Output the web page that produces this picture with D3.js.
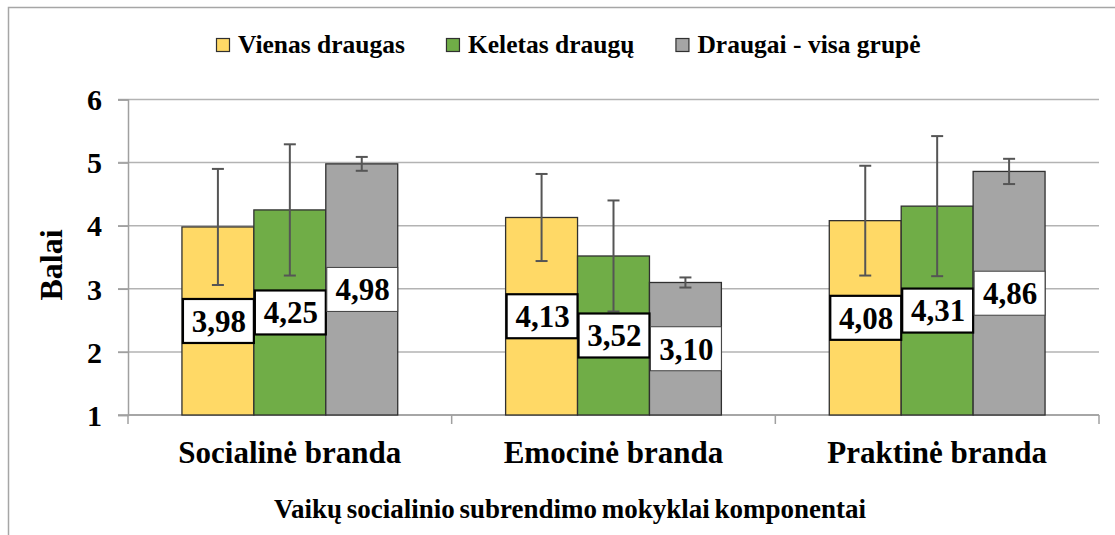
<!DOCTYPE html>
<html>
<head>
<meta charset="utf-8">
<script src="https://cdn.jsdelivr.net/npm/d3@7"></script>
<style>
  body { margin: 0; background: #fff; }
</style>
</head>
<body>
<div id="chart"></div>
<script>
// data
var categories = ["Socialinė branda", "Emocinė branda", "Praktinė branda"];
var seriesNames = ["Vienas draugas", "Keletas draugų", "Draugai - visa grupė"];
var vienas = [3.98, 4.13, 4.08];
var keletas = [4.25, 3.52, 4.31];
var grupe = [4.98, 3.10, 4.86];
var vienasErr = [0.92, 0.69, 0.87];
var keletasErr = [1.04, 0.88, 1.11];
var grupeErr = [0.11, 0.08, 0.20];
var yTicks = [1, 2, 3, 4, 5, 6];

var colors = ["#FFD966", "#70AD47", "#A5A5A5"];
var serif = "'Liberation Serif', 'Times New Roman', Times, serif";

var width = 1115, height = 535;
var plot = {left: 128, right: 1099, top: 99.5, bottom: 415};

var svg = d3.select("#chart").append("svg")
    .attr("width", width)
    .attr("height", height)
    .attr("font-family", serif)
    .attr("font-weight", "bold");

// outer chart border (runs off the right and bottom edges)
svg.append("path")
    .attr("d", "M8.5," + (height + 5) + "V7.5H" + (width + 5))
    .attr("fill", "none")
    .attr("stroke", "#a6a6a6")
    .attr("stroke-width", 1.5);

var x0 = d3.scaleBand()
    .domain(categories)
    .range([plot.left, plot.right])
    .padding(0);

var x1 = d3.scaleBand()
    .domain(seriesNames)
    .range([0, x0.bandwidth()])
    .paddingInner(0)
    .paddingOuter(0.75);

var y = d3.scaleLinear()
    .domain([1, 6])
    .range([plot.bottom, plot.top]);

var commaFormat = d3.formatLocale({decimal: ",", thousands: " ", grouping: [3], currency: ["", ""]}).format(".2f");

// build rows
var values = [vienas, keletas, grupe];
var errs = [vienasErr, keletasErr, grupeErr];
var rows = [];
categories.forEach(function(c, i) {
    seriesNames.forEach(function(s, j) {
        rows.push({cat: c, series: s, idx: j, value: values[j][i], err: errs[j][i]});
    });
});

// GRIDLINES
svg.append("g")
    .selectAll("line")
    .data(yTicks)
    .enter().append("line")
    .attr("x1", plot.left - 10)
    .attr("x2", plot.right)
    .attr("y1", function(d) { return y(d); })
    .attr("y2", function(d) { return y(d); })
    .attr("stroke", function(d) { return d == 1 ? "#a0a0a0" : "#b3b3b3"; })
    .attr("stroke-width", 1.5);

// Y AXIS
var yAxis = svg.append("g")
    .attr("transform", "translate(" + plot.left + ",0)")
    .call(d3.axisLeft(y).tickValues(yTicks).tickSize(10).tickPadding(16).tickFormat(d3.format("d")))
    .attr("font-family", serif)
    .attr("font-weight", "bold");
yAxis.select(".domain").attr("stroke", "#a0a0a0").attr("stroke-width", 1.5);
yAxis.selectAll(".tick line").attr("stroke", "#a0a0a0").attr("stroke-width", 1.5);
yAxis.selectAll(".tick text")
    .style("font-family", serif)
    .style("font-size", "30px")
    .attr("fill", "#000")
    .attr("dy", "0.34em");

// X AXIS (category boundaries)
var xAxisG = svg.append("g")
    .attr("transform", "translate(0," + plot.bottom + ")");
xAxisG.append("line")
    .attr("x1", plot.left).attr("x2", plot.right)
    .attr("stroke", "#a0a0a0").attr("stroke-width", 1.5);
var bounds = categories.map(function(c) { return x0(c); }).concat([plot.right]);
xAxisG.selectAll(".sep")
    .data(bounds)
    .enter().append("line")
    .attr("class", "sep")
    .attr("x1", function(d) { return d; })
    .attr("x2", function(d) { return d; })
    .attr("y1", 0).attr("y2", 9)
    .attr("stroke", "#a0a0a0").attr("stroke-width", 1.5);
xAxisG.selectAll(".catlabel")
    .data(categories)
    .enter().append("text")
    .attr("class", "catlabel")
    .attr("x", function(d) { return x0(d) + x0.bandwidth() / 2; })
    .attr("y", 48)
    .attr("text-anchor", "middle")
    .style("font-family", serif)
    .style("font-size", "31px")
    .text(function(d) { return d; });

// BARS
svg.append("g")
    .selectAll("rect")
    .data(rows)
    .enter().append("rect")
    .attr("x", function(d) { return x0(d.cat) + x1(d.series); })
    .attr("y", function(d) { return y(d.value); })
    .attr("width", x1.bandwidth())
    .attr("height", function(d) { return y(1) - y(d.value); })
    .attr("fill", function(d) { return colors[d.idx]; })
    .attr("stroke", "#303030")
    .attr("stroke-width", 1.3);

// ERROR BARS
var eb = svg.append("g")
    .selectAll("g")
    .data(rows)
    .enter().append("g")
    .attr("stroke", "#555")
    .attr("stroke-width", 2);
eb.append("line")
    .attr("x1", function(d) { return x0(d.cat) + x1(d.series) + x1.bandwidth() / 2; })
    .attr("x2", function(d) { return x0(d.cat) + x1(d.series) + x1.bandwidth() / 2; })
    .attr("y1", function(d) { return y(d.value + d.err); })
    .attr("y2", function(d) { return y(d.value - d.err); });
[1, -1].forEach(function(sign) {
    eb.append("line")
        .attr("x1", function(d) { return x0(d.cat) + x1(d.series) + x1.bandwidth() / 2 - 6; })
        .attr("x2", function(d) { return x0(d.cat) + x1(d.series) + x1.bandwidth() / 2 + 6; })
        .attr("y1", function(d) { return y(d.value + sign * d.err); })
        .attr("y2", function(d) { return y(d.value + sign * d.err); });
});

// VALUE LABELS (white boxes centred in the bars)
var boxH = 44;
var lab = svg.append("g")
    .selectAll("g")
    .data(rows)
    .enter().append("g")
    .attr("transform", function(d) {
        return "translate(" + (x0(d.cat) + x1(d.series)) + "," + ((y(d.value) + y(1)) / 2) + ")";
    });
lab.append("rect")
    .attr("x", 1)
    .attr("y", -boxH / 2)
    .attr("width", x1.bandwidth() - 1)
    .attr("height", boxH)
    .attr("fill", "#fff")
    .attr("stroke", function(d) { return d.idx == 2 ? "#404040" : "#000"; })
    .attr("stroke-width", function(d) { return d.idx == 2 ? 1 : 2.2; });
lab.append("text")
    .attr("x", x1.bandwidth() / 2 + 1)
    .attr("y", 0)
    .attr("dy", "0.35em")
    .attr("text-anchor", "middle")
    .style("font-family", serif)
    .style("font-size", "31px")
    .text(function(d) { return commaFormat(d.value); });

// AXIS TITLES
svg.append("text")
    .attr("transform", "translate(62,265) rotate(-90)")
    .attr("text-anchor", "middle")
    .style("font-family", serif)
    .style("font-size", "32px")
    .text("Balai");

svg.append("text")
    .attr("x", 570)
    .attr("y", 518)
    .attr("text-anchor", "middle")
    .style("font-family", serif)
    .style("font-size", "27px")
    .style("word-spacing", "-2px")
    .text("Vaikų socialinio subrendimo mokyklai komponentai");

// LEGEND
var legend = svg.append("g");
var lx = 216;
seriesNames.forEach(function(name, i) {
    legend.append("rect")
        .attr("x", lx + 0.5)
        .attr("y", 38.5)
        .attr("width", 13)
        .attr("height", 13)
        .attr("fill", colors[i])
        .attr("stroke", "#303030")
        .attr("stroke-width", 1.2);
    var t = legend.append("text")
        .attr("x", lx + 22)
        .attr("y", 53)
        .style("font-family", serif)
        .style("font-size", "25.5px")
        .text(name);
    lx = lx + 22 + t.node().getComputedTextLength() + 41;
});
</script>
</body>
</html>
